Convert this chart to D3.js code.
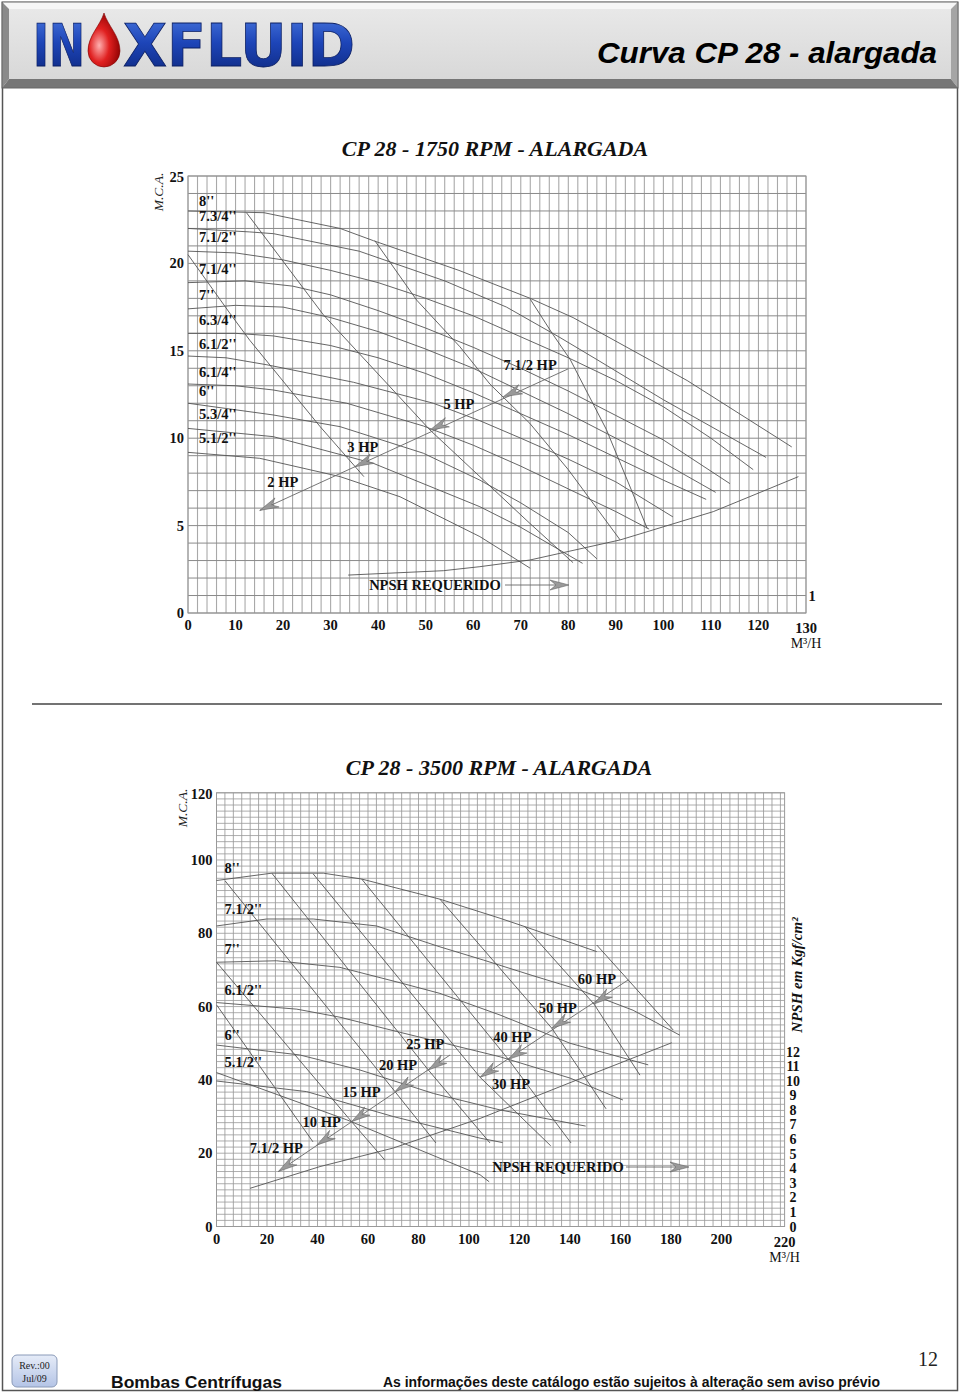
<!DOCTYPE html>
<html><head><meta charset="utf-8">
<script src="https://cdn.jsdelivr.net/npm/d3@7"></script>
<style>html,body{margin:0;padding:0;background:#fff}svg{display:block}</style>
</head><body>
<svg id="c" width="960" height="1393"></svg>
<script>
// ---------------- DATA ----------------
// Top chart (1750 RPM): flow m3/h vs head m
const topXTicks = [0,10,20,30,40,50,60,70,80,90,100,110,120];
const topYTicks = [0,5,10,15,20,25];
const topDiamLabels = ["8''","7.3/4''","7.1/2''","7.1/4''","7''","6.3/4''","6.1/2''","6.1/4''","6''","5.3/4''","5.1/2''"];
const topLabelHeads = [23.3,22.4,21.2,19.4,17.9,16.5,15.1,13.5,12.4,11.1,9.7];
const topD8   = [[0,23],[16,22.9],[32,22],[39,21.3],[57,19.6],[72,18],[81,16.9],[97,14.5],[105,13.3],[127,9.5]];
const topD734 = [[0,22],[13,21.8],[18,21.7],[36,20.7],[54,19],[67,17.5],[78,15.8],[86,14.5],[100,12.2],[121.6,8.9]];
const topD712 = [[0,20.7],[10,20.6],[20,20.2],[30,19.6],[40,18.9],[50,18.0],[60,17.0],[70,15.8],[80,14.6],[90,13.3],[100,11.8],[110,10.0],[118.9,8.2]];
const topD714 = [[0,18.9],[12,19.0],[22,18.7],[30,18.2],[40,17.3],[50,16.3],[60,15.2],[70,14.0],[80,12.7],[90,11.3],[100,9.9],[114,7.4]];
const topD7   = [[0,17.4],[10,17.6],[20,17.5],[30,16.9],[40,16.1],[50,15.1],[60,14.0],[70,12.7],[80,11.4],[90,10.0],[100,8.6],[111,6.9]];
const topD634 = [[0,16.0],[10,16.0],[18,15.85],[30,15.3],[40,14.6],[50,13.7],[60,12.6],[70,11.4],[80,10.2],[90,8.9],[100,7.6],[109,6.5]];
const topD612 = [[0,14.7],[8,14.6],[16.6,14.2],[34.8,13.2],[51.6,12.0],[61.4,11.0],[70,10.0],[80,8.8],[90,7.5],[102,5.5]];
const topD614 = [[0,13.1],[10,13.0],[17.9,12.76],[33.4,12.0],[49.5,10.7],[60,9.6],[70,8.4],[80,7.1],[90,5.8],[97,4.8]];
const topD6   = [[0,12.0],[17.9,11.33],[32,10.66],[49.5,9.14],[61.4,7.6],[70,6.3],[80,4.6],[86,3.1]];
const topD534 = [[0,10.56],[17.9,10.09],[39,8.56],[61.4,6.08],[70,4.9],[83,2.84]];
const topD512 = [[0,9.19],[15.1,8.85],[32,7.8],[44.6,6.65],[61.4,4.37],[72,2.56]];
const topPower1 = [[0,20.5],[8.8,17.15],[13,15.6],[27.8,10.66],[37,7.8]];
const topPower2 = [[12.3,22.9],[28.5,17.05],[50.9,10.47],[71.9,5.13],[81,2.88]];
const topPower3 = [[39.3,21.3],[48.1,17.9],[57.2,15.23],[63.5,13.1],[71.9,10.85],[80,8.2],[90.9,4.18]];
const topPower4 = [[72,17.95],[76.6,16.0],[80.4,14.5],[88,10.5],[96.6,4.84]];
const topNpsh = [[33.7,2.17],[53.7,2.42],[61.4,2.65],[71.9,3.03],[90.9,4.18],[110.5,5.8],[128.4,7.8]];
const topHpBase = [[15.1,5.87],[80,13.97]];
const topHpNames = ["2 HP","3 HP","5 HP","7.1/2 HP"];
const topHpTips = [[15.1,5.87],[35.1,8.37],[50.9,10.47],[66.3,12.37]];

// Bottom chart (3500 RPM)
const botXTicks = [0,20,40,60,80,100,120,140,160,180,200];
const botYTicks = [0,20,40,60,80,100];
const botNpshTicks = [0,1,2,3,4,5,6,7,8,9,10,11,12];
const botDiamLabels = ["8''","7.1/2''","7''","6.1/2''","6''","5.1/2''"];
const botLabelHeads = [96.5,85.3,74.3,63.2,50.8,43.5];
const botD8   = [[0,94.4],[21.9,96.4],[42.3,96.4],[57.5,94.8],[88.5,89.3],[112.3,84.1],[122.2,81.8],[150.6,75.0]];
const botD712 = [[0,82],[19.9,83.9],[38.3,83.9],[63.4,82],[88.5,76.3],[105.7,72.7],[125,68.5],[144,64.5],[165,59],[183.5,52.2]];
const botD7   = [[0,72.1],[23.8,72.5],[48.9,70.7],[72.7,66.5],[88.5,63.6],[112.3,57.7],[140,50],[171,44.1]];
const botD612 = [[0,61.1],[31.8,59.3],[48.9,57.1],[71.4,53.2],[112.3,46.3],[140,40.5],[161,34.5]];
const botD6   = [[0,49.5],[33,46.8],[56.8,42.7],[85.9,36.3],[112.3,31.8],[146.2,27.4]];
const botD512a = [[0,42],[51.6,29.1],[104.4,14.1],[108,12.2]];
const botD512b = [[0,39.7],[35.7,36.8],[70,30],[104.4,24.1],[113.3,22.9]];
const botPower = [
  [[0.1,60.4],[38.2,23.1]],
  [[0,72.1],[53.5,28.6],[66.7,18.1]],
  [[3.4,94.3],[70.7,36.8],[86.9,22.8]],
  [[21.9,96.4],[83.9,42.7],[108.3,22.8]],
  [[38.3,96.2],[104.4,40.7],[132.4,22.0]],
  [[57.5,94.8],[115.6,45.6],[140.4,22.8]],
  [[88.5,89.3],[132.8,54.1],[154.3,32.1]],
  [[122.2,81.8],[149.5,60.7],[167.7,41.3]],
  [[150.6,76.8],[180.9,53.6]]
];
const botNpsh = [[13.3,2.62],[41,4.11],[70,5.38],[104.4,7.41],[140,9.86],[180.3,12.6]];
const botHpBase1 = [[24.5,15.0],[92.5,46.8]];
const botHpBase2 = [[104.4,40.7],[163.1,67.3]];
const botHpNames1 = ["7.1/2 HP","10 HP","15 HP","20 HP","25 HP"];
const botHpTips1 = [[24.5,15.0],[39.7,22.2],[53.5,28.6],[70.7,36.8],[83.9,42.7]];
const botHpNames2 = ["30 HP","40 HP","50 HP","60 HP"];
const botHpTips2 = [[104.4,40.7],[115.6,45.6],[132.8,54.1],[149.5,60.7]];

// label offsets (layout, px)
const topHpOff = [[23,-23],[8,-15],[29,-21],[27,-27]];
const botHpOff1 = [[-2,-19],[5,-18],[10,-25],[3,-22],[-3,-21]];
const botHpOff2 = [[31,12],[4,-17],[6,-15],[3,-20]];

// ---------------- DRAW ----------------
const svg = d3.select('#c');
const serif = "'Liberation Serif','Times New Roman',serif";
const sans = "'Liberation Sans',Arial,sans-serif";
const defs = svg.append('defs');

// page frame
svg.append('rect').attr('x',2.5).attr('y',2.5).attr('width',955).attr('height',1388)
  .attr('fill','none').attr('stroke','#555').attr('stroke-width',1.5);

// header bevel
const hb = svg.append('g');
hb.append('polygon').attr('points','2,2 958,2 951,9 9,9').attr('fill','#f6f6f6');
hb.append('polygon').attr('points','2,2 9,9 9,79 2,88').attr('fill','#8a8a8a');
hb.append('polygon').attr('points','958,2 958,88 951,79 951,9').attr('fill','#a5a5a5');
hb.append('polygon').attr('points','2,88 9,79 951,79 958,88').attr('fill','#767676');
const hg = defs.append('linearGradient').attr('id','hg').attr('x1',0).attr('y1',0).attr('x2',0).attr('y2',1);
hg.append('stop').attr('offset',0).attr('stop-color','#e8e8e8');
hg.append('stop').attr('offset',1).attr('stop-color','#d8d8d8');
hb.append('rect').attr('x',9).attr('y',9).attr('width',942).attr('height',70).attr('fill','url(#hg)');
hb.append('rect').attr('x',2).attr('y',2).attr('width',956).attr('height',86).attr('fill','none').attr('stroke','#666').attr('stroke-width',1);

// logo
const lg = defs.append('linearGradient').attr('id','lg').attr('x1',0).attr('y1',0).attr('x2',0).attr('y2',1);
lg.append('stop').attr('offset',0).attr('stop-color','#4a78e0');
lg.append('stop').attr('offset',0.45).attr('stop-color','#1d45b8');
lg.append('stop').attr('offset',1).attr('stop-color','#0b2478');
const logoStyle = t => t.attr('font-family',"'DejaVu Sans',sans-serif").attr('font-weight','bold')
  .attr('font-size',58).attr('fill','url(#lg)').attr('stroke','#0a1d60').attr('stroke-width',0.8)
  .attr('lengthAdjust','spacingAndGlyphs');
logoStyle(hb.append('text').attr('x',33).attr('y',66).attr('textLength',52).text('IN'));
logoStyle(hb.append('text').attr('x',123).attr('y',66).attr('textLength',232).text('XFLUID'));
const rg = defs.append('radialGradient').attr('id','rg').attr('cx',0.35).attr('cy',0.6).attr('r',0.7);
rg.append('stop').attr('offset',0).attr('stop-color','#ffb0b0');
rg.append('stop').attr('offset',0.45).attr('stop-color','#e02020');
rg.append('stop').attr('offset',1).attr('stop-color','#8a0000');
hb.append('path').attr('d','M104,13 C108,26 120,36 120,51 A16,16 0 0 1 88,51 C88,36 100,26 104,13 Z')
  .attr('fill','url(#rg)').attr('stroke','#800000').attr('stroke-width',0.6);
hb.append('text').attr('x',937).attr('y',63).attr('text-anchor','end')
  .attr('font-family',sans).attr('font-style','italic').attr('font-weight','bold').attr('font-size',30)
  .attr('textLength',340).attr('lengthAdjust','spacingAndGlyphs').attr('fill','#000')
  .text('Curva CP 28 - alargada');

// separator
svg.append('line').attr('x1',32).attr('x2',942).attr('y1',704).attr('y2',704).attr('stroke','#444').attr('stroke-width',1.5);

function arrowHead(g, tip, toward, color) {
  const dx = toward[0]-tip[0], dy = toward[1]-tip[1];
  const L = Math.hypot(dx,dy), ux = dx/L, uy = dy/L, nx = -uy, ny = ux;
  const p = (a,b) => [tip[0]+ux*a+nx*b, tip[1]+uy*a+ny*b];
  const pts = [p(0,0), p(19,5), p(13,0), p(19,-5)];
  g.append('polygon').attr('points', pts.map(d=>d.join(',')).join(' '))
    .attr('fill', color||'#999').attr('stroke','#666').attr('stroke-width',0.6);
}

function drawChart(cfg) {
  const g = svg.append('g');
  const x = cfg.x, y = cfg.y;
  const [x0,x1] = x.range(), [y0,y1] = y.range();
  g.selectAll(null).data(cfg.vLines).join('line')
    .attr('x1',d=>x(d)).attr('x2',d=>x(d)).attr('y1',y0).attr('y2',y1)
    .attr('stroke',cfg.vColor).attr('stroke-width',cfg.vWidth);
  g.selectAll(null).data(cfg.hLines).join('line')
    .attr('y1',d=>y(d)).attr('y2',d=>y(d)).attr('x1',x0).attr('x2',x1)
    .attr('stroke',cfg.hColor).attr('stroke-width',cfg.hWidth);
  g.append('rect').attr('x',x0).attr('y',y1).attr('width',x1-x0).attr('height',y0-y1)
    .attr('fill','none').attr('stroke','#999').attr('stroke-width',1);
  const line = d3.line().x(d=>x(d[0])).y(d=>y(d[1]));
  cfg.curves.forEach(c => g.append('path').attr('d',line(c)).attr('fill','none')
    .attr('stroke','#555').attr('stroke-width',0.9));
  const ny = cfg.npshY || y;
  g.append('path').attr('d', d3.line().x(d=>x(d[0])).y(d=>ny(d[1]))(cfg.npsh))
    .attr('fill','none').attr('stroke','#555').attr('stroke-width',0.9);
  cfg.hpGroups.forEach(hp => {
    g.append('path').attr('d',line(hp.base)).attr('fill','none').attr('stroke','#666').attr('stroke-width',0.9);
    const end = [x(hp.base[1][0]), y(hp.base[1][1])];
    hp.tips.forEach((t,i) => {
      const tp = [x(t[0]), y(t[1])];
      arrowHead(g, tp, end);
      g.append('text').attr('x',tp[0]+hp.off[i][0]).attr('y',tp[1]+hp.off[i][1])
        .attr('text-anchor','middle').attr('font-family',serif).attr('font-weight','bold')
        .attr('font-size',14.5).attr('fill','#111').text(hp.names[i]);
    });
  });
  g.selectAll(null).data(cfg.diamLabels).join('text')
    .attr('x',x0+cfg.diamDx).attr('y',(d,i)=>y(cfg.labelHeads[i]))
    .attr('font-family',serif).attr('font-weight','bold').attr('font-size',14.5).attr('fill','#111')
    .text(d=>d);
  g.selectAll(null).data(cfg.xTicks).join('text')
    .attr('x',d=>x(d)).attr('y',y0+17).attr('text-anchor','middle')
    .attr('font-family',serif).attr('font-weight','bold').attr('font-size',14.5).attr('fill','#111').text(d=>d);
  g.append('text').attr('x',x1).attr('y',y0+20).attr('text-anchor','middle')
    .attr('font-family',serif).attr('font-weight','bold').attr('font-size',14.5).attr('fill','#111').text(cfg.lastX);
  g.append('text').attr('x',x1).attr('y',y0+35).attr('text-anchor','middle')
    .attr('font-family',serif).attr('font-size',14).attr('fill','#111').text('M³/H');
  g.selectAll(null).data(cfg.yTicks).join('text')
    .attr('x',x0-4).attr('y',d=>y(d)+5).attr('text-anchor','end')
    .attr('font-family',serif).attr('font-weight','bold').attr('font-size',14.5).attr('fill','#111').text(d=>d);
  g.append('text').attr('x',x0-4).attr('y',y1+6).attr('text-anchor','end')
    .attr('font-family',serif).attr('font-weight','bold').attr('font-size',14.5).attr('fill','#111').text(cfg.topY);
  g.append('text').attr('transform',`translate(${cfg.mcaPos[0]},${cfg.mcaPos[1]}) rotate(-90)`)
    .attr('text-anchor','middle').attr('font-family',serif).attr('font-style','italic').attr('font-size',13.5)
    .attr('fill','#222').text('M.C.A.');
  g.append('text').attr('x',cfg.titlePos[0]).attr('y',cfg.titlePos[1]).attr('text-anchor','middle')
    .attr('font-family',serif).attr('font-weight','bold').attr('font-style','italic').attr('font-size',22)
    .attr('fill','#111').text(cfg.title);
  const np = cfg.npshLabel;
  g.append('text').attr('x',np.x).attr('y',np.y+5).attr('text-anchor','middle')
    .attr('font-family',serif).attr('font-weight','bold').attr('font-size',14.5).attr('fill','#111').text('NPSH REQUERIDO');
  g.append('line').attr('x1',np.l0).attr('x2',np.l1-10).attr('y1',np.y).attr('y2',np.y).attr('stroke','#666').attr('stroke-width',0.9);
  arrowHead(g,[np.l1,np.y],[np.l0,np.y]);
  return g;
}

const xT = d3.scaleLinear([0,130],[188,806]);
const yT = d3.scaleLinear([0,25],[613,176]);
const gT = drawChart({
  x:xT, y:yT, vLines:d3.range(0,130.01,2), hLines:d3.range(0,25.01,1),
  vColor:'#a9a9a9', vWidth:1.1, hColor:'#8a8a8a', hWidth:1,
  curves:[topD8,topD734,topD712,topD714,topD7,topD634,topD612,topD614,topD6,topD534,topD512,topPower1,topPower2,topPower3,topPower4],
  npsh: topNpsh,
  hpGroups:[{base:topHpBase, tips:topHpTips, names:topHpNames, off:topHpOff}],
  diamLabels:topDiamLabels, labelHeads:topLabelHeads, diamDx:11,
  xTicks:topXTicks, lastX:130, yTicks:topYTicks.slice(0,5), topY:25,
  mcaPos:[163,192], titlePos:[495,156], title:'CP 28 - 1750 RPM - ALARGADA',
  npshLabel:{x:435,y:585,l0:505,l1:569}
});
gT.append('text').attr('x',812).attr('y',yT(1)+5).attr('text-anchor','middle')
  .attr('font-family',serif).attr('font-weight','bold').attr('font-size',14.5).attr('fill','#111').text('1');

const xB = d3.scaleLinear([0,225],[216.5,784.6]);
const yB = d3.scaleLinear([0,118.33],[1226.5,792.8]);
const yN = d3.scaleLinear([0,12],[1226.5,1051.5]);
const gB = drawChart({
  x:xB, y:yB, vLines:d3.range(0,225.01,10/3), hLines:d3.range(0,118.34,5/3),
  vColor:'#a9a9a9', vWidth:1, hColor:'#999', hWidth:0.8,
  curves:[botD8,botD712,botD7,botD612,botD6,botD512a,botD512b].concat(botPower),
  npsh: botNpsh, npshY: yN,
  hpGroups:[{base:botHpBase1,tips:botHpTips1,names:botHpNames1,off:botHpOff1},
            {base:botHpBase2,tips:botHpTips2,names:botHpNames2,off:botHpOff2}],
  diamLabels:botDiamLabels, labelHeads:botLabelHeads, diamDx:8,
  xTicks:botXTicks, lastX:220, yTicks:botYTicks, topY:120,
  mcaPos:[187,808], titlePos:[499,775], title:'CP 28 - 3500 RPM - ALARGADA',
  npshLabel:{x:558,y:1167,l0:626,l1:689}
});
gB.selectAll(null).data(botNpshTicks).join('text')
  .attr('x',793).attr('y',d=>yN(d)+5).attr('text-anchor','middle')
  .attr('font-family',serif).attr('font-weight','bold').attr('font-size',14).attr('fill','#111').text(d=>d);
gB.append('text').attr('transform','translate(802,975) rotate(-90)').attr('text-anchor','middle')
  .attr('font-family',serif).attr('font-weight','bold').attr('font-style','italic').attr('font-size',15)
  .attr('fill','#111').text('NPSH em Kgf/cm²');

// footer
const fg = defs.append('linearGradient').attr('id','fg').attr('x1',0).attr('y1',0).attr('x2',0).attr('y2',1);
fg.append('stop').attr('offset',0).attr('stop-color','#e6ecf8');
fg.append('stop').attr('offset',1).attr('stop-color','#b4c4e6');
svg.append('rect').attr('x',12).attr('y',1355).attr('width',45).attr('height',32).attr('rx',5)
  .attr('fill','url(#fg)').attr('stroke','#8a9ab8').attr('stroke-width',1);
svg.append('text').attr('x',34.5).attr('y',1369).attr('text-anchor','middle').attr('font-family',serif)
  .attr('font-size',10).attr('fill','#222').text('Rev.:00');
svg.append('text').attr('x',34.5).attr('y',1382).attr('text-anchor','middle').attr('font-family',serif)
  .attr('font-size',10).attr('fill','#222').text('Jul/09');
svg.append('text').attr('x',111).attr('y',1388).attr('font-family',sans).attr('font-weight','bold')
  .attr('font-size',17).attr('textLength',171).attr('lengthAdjust','spacingAndGlyphs').attr('fill','#111')
  .text('Bombas Centrífugas');
svg.append('text').attr('x',383).attr('y',1387).attr('font-family',sans).attr('font-weight','bold')
  .attr('font-size',14).attr('textLength',497).attr('lengthAdjust','spacingAndGlyphs').attr('fill','#111')
  .text('As informações deste catálogo estão sujeitos à alteração sem aviso prévio');
svg.append('text').attr('x',928).attr('y',1366).attr('text-anchor','middle').attr('font-family',serif)
  .attr('font-size',20).attr('fill','#222').text('12');
</script>
</body></html>
